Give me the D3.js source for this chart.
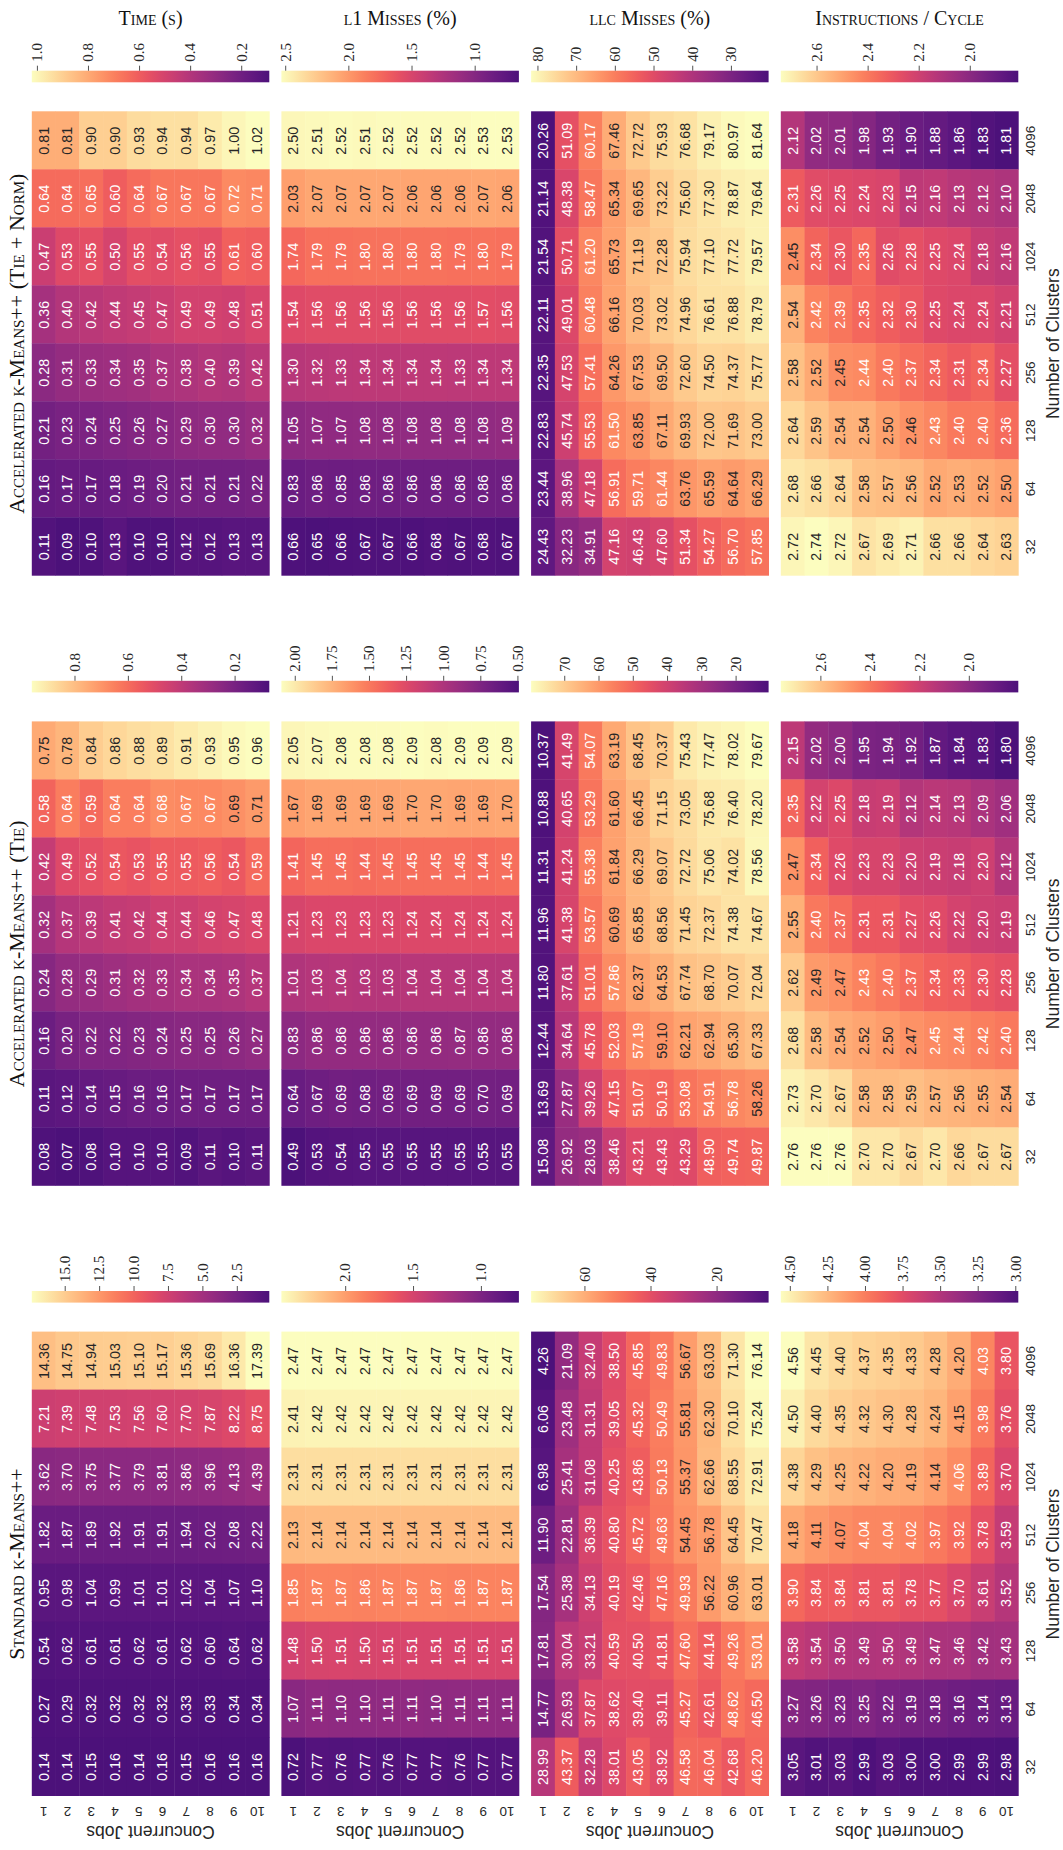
<!DOCTYPE html>
<html>
<head>
<meta charset="utf-8">
<script src="https://cdn.jsdelivr.net/npm/d3@7"></script>
<style>
  body { margin: 0; background: #fff; }
  svg text { font-family: "Liberation Sans", Arial, sans-serif; fill: #262626; }
  .title { font-family: "Liberation Serif", serif; font-variant: small-caps; font-size: 20px; fill: #111; }
  .method { font-size: 22px; }
  .cbar text { font-family: "Liberation Serif", serif; font-size: 15px; }
</style>
</head>
<body>
<svg width="1063" height="1850"></svg>
<script>
/*global d3*/

var clusters = [32, 64, 128, 256, 512, 1024, 2048, 4096]
var jobs = [1, 2, 3, 4, 5, 6, 7, 8, 9, 10]

var methods = ['Standard k-Means++', 'Accelerated k-Means++ (Tie)', 'Accelerated k-Means++ (Tie + Norm)']
var metrics = ['Time (s)', 'l1 Misses (%)', 'llc Misses (%)', 'Instructions / Cycle']

// every grid: one row per cluster count, from 4096 down to 32, one value per concurrent job
var stdTime = [
  [14.36, 14.75, 14.94, 15.03, 15.10, 15.17, 15.36, 15.69, 16.36, 17.39],
  [7.21, 7.39, 7.48, 7.53, 7.56, 7.60, 7.70, 7.87, 8.22, 8.75],
  [3.62, 3.70, 3.75, 3.77, 3.79, 3.81, 3.86, 3.96, 4.13, 4.39],
  [1.82, 1.87, 1.89, 1.92, 1.91, 1.91, 1.94, 2.02, 2.08, 2.22],
  [0.95, 0.98, 1.04, 0.99, 1.01, 1.01, 1.02, 1.04, 1.07, 1.10],
  [0.54, 0.62, 0.61, 0.61, 0.62, 0.61, 0.62, 0.60, 0.64, 0.62],
  [0.27, 0.29, 0.32, 0.32, 0.32, 0.32, 0.33, 0.33, 0.34, 0.34],
  [0.14, 0.14, 0.15, 0.16, 0.14, 0.16, 0.15, 0.16, 0.16, 0.16]
]
var stdL1 = [
  [2.47, 2.47, 2.47, 2.47, 2.47, 2.47, 2.47, 2.47, 2.47, 2.47],
  [2.41, 2.42, 2.42, 2.42, 2.42, 2.42, 2.42, 2.42, 2.42, 2.42],
  [2.31, 2.31, 2.31, 2.31, 2.31, 2.31, 2.31, 2.31, 2.31, 2.31],
  [2.13, 2.14, 2.14, 2.14, 2.14, 2.14, 2.14, 2.14, 2.14, 2.14],
  [1.85, 1.87, 1.87, 1.86, 1.87, 1.87, 1.87, 1.86, 1.87, 1.87],
  [1.48, 1.50, 1.51, 1.50, 1.51, 1.51, 1.51, 1.51, 1.51, 1.51],
  [1.07, 1.11, 1.10, 1.10, 1.11, 1.11, 1.10, 1.11, 1.11, 1.11],
  [0.72, 0.77, 0.76, 0.77, 0.76, 0.77, 0.77, 0.76, 0.77, 0.77]
]
var stdLlc = [
  [4.26, 21.09, 32.40, 38.50, 45.85, 49.83, 56.67, 63.03, 71.30, 76.14],
  [6.06, 23.48, 31.31, 39.05, 45.32, 50.49, 55.81, 62.30, 70.10, 75.24],
  [6.98, 25.41, 31.08, 40.25, 43.86, 50.13, 55.37, 62.66, 68.55, 72.91],
  [11.90, 22.81, 36.39, 40.80, 45.72, 49.63, 54.45, 56.78, 64.45, 70.47],
  [17.54, 25.38, 34.13, 40.19, 42.46, 47.16, 49.93, 56.22, 60.96, 63.01],
  [17.81, 30.04, 33.21, 40.59, 40.50, 41.81, 47.60, 44.14, 49.26, 53.01],
  [14.77, 26.93, 37.87, 38.62, 39.40, 39.11, 45.27, 42.61, 48.62, 46.50],
  [28.99, 43.37, 32.28, 38.01, 43.05, 38.92, 46.58, 46.04, 42.68, 46.20]
]
var stdIpc = [
  [4.56, 4.45, 4.40, 4.37, 4.35, 4.33, 4.28, 4.20, 4.03, 3.80],
  [4.50, 4.40, 4.35, 4.32, 4.30, 4.28, 4.24, 4.15, 3.98, 3.76],
  [4.38, 4.29, 4.25, 4.22, 4.20, 4.19, 4.14, 4.06, 3.89, 3.70],
  [4.18, 4.11, 4.07, 4.04, 4.04, 4.02, 3.97, 3.92, 3.78, 3.59],
  [3.90, 3.84, 3.84, 3.81, 3.81, 3.78, 3.77, 3.70, 3.61, 3.52],
  [3.58, 3.54, 3.50, 3.49, 3.50, 3.49, 3.47, 3.46, 3.42, 3.43],
  [3.27, 3.26, 3.23, 3.25, 3.22, 3.19, 3.18, 3.16, 3.14, 3.13],
  [3.05, 3.01, 3.03, 2.99, 3.03, 3.00, 3.00, 2.99, 2.99, 2.98]
]

var tieTime = [
  [0.75, 0.78, 0.84, 0.86, 0.88, 0.89, 0.91, 0.93, 0.95, 0.96],
  [0.58, 0.64, 0.59, 0.64, 0.64, 0.68, 0.67, 0.67, 0.69, 0.71],
  [0.42, 0.49, 0.52, 0.54, 0.53, 0.55, 0.55, 0.56, 0.54, 0.59],
  [0.32, 0.37, 0.39, 0.41, 0.42, 0.44, 0.44, 0.46, 0.47, 0.48],
  [0.24, 0.28, 0.29, 0.31, 0.32, 0.33, 0.34, 0.34, 0.35, 0.37],
  [0.16, 0.20, 0.22, 0.22, 0.23, 0.24, 0.25, 0.25, 0.26, 0.27],
  [0.11, 0.12, 0.14, 0.15, 0.16, 0.16, 0.17, 0.17, 0.17, 0.17],
  [0.08, 0.07, 0.08, 0.10, 0.10, 0.10, 0.09, 0.11, 0.10, 0.11]
]
var tieL1 = [
  [2.05, 2.07, 2.08, 2.08, 2.08, 2.09, 2.08, 2.09, 2.09, 2.09],
  [1.67, 1.69, 1.69, 1.69, 1.69, 1.70, 1.70, 1.69, 1.69, 1.70],
  [1.41, 1.45, 1.45, 1.44, 1.45, 1.45, 1.45, 1.45, 1.44, 1.45],
  [1.21, 1.23, 1.23, 1.23, 1.23, 1.24, 1.24, 1.24, 1.24, 1.24],
  [1.01, 1.03, 1.04, 1.03, 1.03, 1.04, 1.04, 1.04, 1.04, 1.04],
  [0.83, 0.86, 0.86, 0.86, 0.86, 0.86, 0.86, 0.87, 0.86, 0.86],
  [0.64, 0.67, 0.69, 0.68, 0.69, 0.69, 0.69, 0.69, 0.70, 0.69],
  [0.49, 0.53, 0.54, 0.55, 0.55, 0.55, 0.55, 0.55, 0.55, 0.55]
]
var tieLlc = [
  [10.37, 41.49, 54.07, 63.19, 68.45, 70.37, 75.43, 77.47, 78.02, 79.67],
  [10.88, 40.65, 53.29, 61.60, 66.45, 71.15, 73.05, 75.68, 76.40, 78.20],
  [11.31, 41.24, 55.38, 61.84, 66.29, 69.07, 72.72, 75.06, 74.02, 78.56],
  [11.96, 41.38, 53.57, 60.69, 65.85, 68.56, 71.45, 72.37, 74.38, 74.67],
  [11.80, 37.61, 51.01, 57.86, 62.37, 64.53, 67.74, 68.70, 70.07, 72.04],
  [12.44, 34.64, 45.78, 52.03, 57.19, 59.10, 62.21, 62.94, 65.30, 67.33],
  [13.69, 27.87, 39.26, 47.15, 51.07, 50.19, 53.08, 54.91, 56.78, 58.26],
  [15.08, 26.92, 28.03, 38.46, 43.21, 43.43, 43.29, 48.90, 49.74, 49.87]
]
var tieIpc = [
  [2.15, 2.02, 2.00, 1.95, 1.94, 1.92, 1.87, 1.84, 1.83, 1.80],
  [2.35, 2.22, 2.25, 2.18, 2.19, 2.12, 2.14, 2.13, 2.09, 2.06],
  [2.47, 2.34, 2.26, 2.23, 2.23, 2.20, 2.19, 2.18, 2.20, 2.12],
  [2.55, 2.40, 2.37, 2.31, 2.31, 2.27, 2.26, 2.22, 2.20, 2.19],
  [2.62, 2.49, 2.47, 2.43, 2.40, 2.37, 2.34, 2.33, 2.30, 2.28],
  [2.68, 2.58, 2.54, 2.52, 2.50, 2.47, 2.45, 2.44, 2.42, 2.40],
  [2.73, 2.70, 2.67, 2.58, 2.58, 2.59, 2.57, 2.56, 2.55, 2.54],
  [2.76, 2.76, 2.76, 2.70, 2.70, 2.67, 2.70, 2.66, 2.67, 2.67]
]

var tnTime = [
  [0.81, 0.81, 0.90, 0.90, 0.93, 0.94, 0.94, 0.97, 1.00, 1.02],
  [0.64, 0.64, 0.65, 0.60, 0.64, 0.67, 0.67, 0.67, 0.72, 0.71],
  [0.47, 0.53, 0.55, 0.50, 0.55, 0.54, 0.56, 0.55, 0.61, 0.60],
  [0.36, 0.40, 0.42, 0.44, 0.45, 0.47, 0.49, 0.49, 0.48, 0.51],
  [0.28, 0.31, 0.33, 0.34, 0.35, 0.37, 0.38, 0.40, 0.39, 0.42],
  [0.21, 0.23, 0.24, 0.25, 0.26, 0.27, 0.29, 0.30, 0.30, 0.32],
  [0.16, 0.17, 0.17, 0.18, 0.19, 0.20, 0.21, 0.21, 0.21, 0.22],
  [0.11, 0.09, 0.10, 0.13, 0.10, 0.10, 0.12, 0.12, 0.13, 0.13]
]
var tnL1 = [
  [2.50, 2.51, 2.52, 2.51, 2.52, 2.52, 2.52, 2.52, 2.53, 2.53],
  [2.03, 2.07, 2.07, 2.07, 2.07, 2.06, 2.06, 2.06, 2.07, 2.06],
  [1.74, 1.79, 1.79, 1.80, 1.80, 1.80, 1.80, 1.79, 1.80, 1.79],
  [1.54, 1.56, 1.56, 1.56, 1.56, 1.56, 1.56, 1.56, 1.57, 1.56],
  [1.30, 1.32, 1.33, 1.34, 1.34, 1.34, 1.34, 1.33, 1.34, 1.34],
  [1.05, 1.07, 1.07, 1.08, 1.08, 1.08, 1.08, 1.08, 1.08, 1.09],
  [0.83, 0.86, 0.85, 0.86, 0.86, 0.86, 0.86, 0.86, 0.86, 0.86],
  [0.66, 0.65, 0.66, 0.67, 0.67, 0.66, 0.68, 0.67, 0.68, 0.67]
]
var tnLlc = [
  [20.26, 51.09, 60.17, 67.46, 72.72, 75.93, 76.68, 79.17, 80.97, 81.64],
  [21.14, 48.38, 58.47, 65.34, 69.65, 73.22, 75.60, 77.30, 78.87, 79.64],
  [21.54, 50.71, 61.20, 65.73, 71.19, 72.28, 75.94, 77.10, 77.72, 79.57],
  [22.11, 49.01, 60.48, 66.16, 70.03, 73.02, 74.96, 76.61, 76.88, 78.79],
  [22.35, 47.53, 57.41, 64.26, 67.53, 69.50, 72.60, 74.50, 74.37, 75.77],
  [22.83, 45.74, 55.53, 61.50, 63.85, 67.11, 69.93, 72.00, 71.69, 73.00],
  [23.44, 38.96, 47.18, 56.91, 59.71, 61.44, 63.76, 65.59, 64.64, 66.29],
  [24.43, 32.23, 34.91, 47.16, 46.43, 47.60, 51.34, 54.27, 56.70, 57.85]
]
var tnIpc = [
  [2.12, 2.02, 2.01, 1.98, 1.93, 1.90, 1.88, 1.86, 1.83, 1.81],
  [2.31, 2.26, 2.25, 2.24, 2.23, 2.15, 2.16, 2.13, 2.12, 2.10],
  [2.45, 2.34, 2.30, 2.35, 2.26, 2.28, 2.25, 2.24, 2.18, 2.16],
  [2.54, 2.42, 2.39, 2.35, 2.32, 2.30, 2.25, 2.24, 2.24, 2.21],
  [2.58, 2.52, 2.45, 2.44, 2.40, 2.37, 2.34, 2.31, 2.34, 2.27],
  [2.64, 2.59, 2.54, 2.54, 2.50, 2.46, 2.43, 2.40, 2.40, 2.36],
  [2.68, 2.66, 2.64, 2.58, 2.57, 2.56, 2.52, 2.53, 2.52, 2.50],
  [2.72, 2.74, 2.72, 2.67, 2.69, 2.71, 2.66, 2.66, 2.64, 2.63]
]

// colorbar tick labels
var stdTimeTicks = ['2.5', '5.0', '7.5', '10.0', '12.5', '15.0']
var stdL1Ticks = ['1.0', '1.5', '2.0']
var stdLlcTicks = ['20', '40', '60']
var stdIpcTicks = ['3.00', '3.25', '3.50', '3.75', '4.00', '4.25', '4.50']
var tieTimeTicks = ['0.2', '0.4', '0.6', '0.8']
var tieL1Ticks = ['0.50', '0.75', '1.00', '1.25', '1.50', '1.75', '2.00']
var tieLlcTicks = ['20', '30', '40', '50', '60', '70']
var tieIpcTicks = ['2.0', '2.2', '2.4', '2.6']
var tnTimeTicks = ['0.2', '0.4', '0.6', '0.8', '1.0']
var tnL1Ticks = ['1.0', '1.5', '2.0', '2.5']
var tnLlcTicks = ['30', '40', '50', '60', '70', '80']
var tnIpcTicks = ['2.0', '2.2', '2.4', '2.6']

var grids = [
  [stdTime, stdL1, stdLlc, stdIpc],
  [tieTime, tieL1, tieLlc, tieIpc],
  [tnTime, tnL1, tnLlc, tnIpc]
]
var cbTicks = [
  [stdTimeTicks, stdL1Ticks, stdLlcTicks, stdIpcTicks],
  [tieTimeTicks, tieL1Ticks, tieLlcTicks, tieIpcTicks],
  [tnTimeTicks, tnL1Ticks, tnLlcTicks, tnIpcTicks]
]

// the figure is laid out landscape and then turned a quarter turn anticlockwise
var svg = d3.select('svg')
var fig = svg.append('g').attr('transform', 'translate(0,1850) rotate(-90)')

var colX = [54, 664.2, 1274.3]
var rowY = [31.8, 281.4, 531.1, 780.8]
var hmW = 464
var hmH = 237.5
var T0 = 0.24

var x = d3.scaleBand().domain(clusters).range([0, hmW])
var y = d3.scaleBand().domain(jobs).range([0, hmH])
var rowClusters = clusters.slice().reverse()
var defs = svg.append('defs')

function cmap (t) { return d3.interpolateMagma(T0 + (1 - T0) * t) }

function luminance (c) {
  var rgb = d3.rgb(c)
  var lin = [rgb.r, rgb.g, rgb.b].map(function (v) {
    v = v / 255
    return v <= 0.03928 ? v / 12.92 : Math.pow((v + 0.055) / 1.055, 2.4)
  })
  return 0.2126 * lin[0] + 0.7152 * lin[1] + 0.0722 * lin[2]
}

grids.forEach(function (mGrids, mi) {
  mGrids.forEach(function (grid, ri) {
    var cells = []
    grid.forEach(function (vals, i) {
      vals.forEach(function (v, j) {
        cells.push({ c: rowClusters[i], j: jobs[j], v: v })
      })
    })
    var ext = d3.extent(cells, function (d) { return d.v })
    var color = d3.scaleSequential(cmap).domain(ext)

    var g = fig.append('g')
      .attr('transform', 'translate(' + colX[mi] + ',' + rowY[ri] + ')')

    g.append('g').selectAll('rect')
      .data(cells)
      .enter().append('rect')
      .attr('x', function (d) { return x(d.c) })
      .attr('y', function (d) { return y(d.j) })
      .attr('width', x.bandwidth() + 0.4)
      .attr('height', y.bandwidth() + 0.4)
      .attr('fill', function (d) { return color(d.v) })

    g.append('g').selectAll('text')
      .data(cells)
      .enter().append('text')
      .attr('x', function (d) { return x(d.c) + x.bandwidth() / 2 })
      .attr('y', function (d) { return y(d.j) + y.bandwidth() / 2 })
      .attr('text-anchor', 'middle')
      .attr('dominant-baseline', 'central')
      .style('font-size', '14.4px')
      .style('fill', function (d) { return luminance(color(d.v)) > 0.408 ? '#262626' : '#ffffff' })
      .text(function (d) { return d.v.toFixed(2) })

    // colorbar
    var gid = 'grad' + mi + ri
    var grad = defs.append('linearGradient').attr('id', gid)
      .attr('x1', 0).attr('y1', 1).attr('x2', 0).attr('y2', 0)
    d3.range(0, 1.0001, 0.05).forEach(function (t) {
      grad.append('stop').attr('offset', t).attr('stop-color', cmap(t))
    })
    g.append('rect')
      .attr('x', hmW + 29.4).attr('y', 0)
      .attr('width', 11.6).attr('height', hmH)
      .attr('fill', 'url(#' + gid + ')')

    var labels = cbTicks[mi][ri]
    var cb = d3.scaleLinear().domain(ext).range([hmH, 0])
    var cbAxis = g.append('g')
      .attr('class', 'cbar')
      .attr('transform', 'translate(' + (hmW + 41) + ',0)')
      .call(d3.axisRight(cb)
        .tickValues(labels.map(Number))
        .tickFormat(function (d, i) { return labels[i] })
        .tickSize(5).tickPadding(4))
    cbAxis.select('.domain').remove()
    cbAxis.attr('font-family', null).attr('font-size', null)
    cbAxis.selectAll('line').attr('stroke', '#262626').attr('stroke-width', 0.8)
    cbAxis.selectAll('text').attr('fill', null)

    // concurrent jobs axis, only beside the standard heatmaps
    if (mi === 0) {
      var ya = g.append('g').call(d3.axisLeft(y).tickSize(0).tickPadding(0))
      ya.select('.domain').remove()
      ya.attr('font-family', null).attr('font-size', null)
      ya.selectAll('text')
        .attr('fill', null).attr('x', 0).attr('dy', null)
        .attr('text-anchor', 'middle')
        .attr('dominant-baseline', 'central')
        .attr('transform', 'translate(-15.7,0) rotate(-90)')
        .style('font-size', '13.5px')
      g.append('text')
        .attr('transform', 'translate(-35.7,' + hmH / 2 + ') rotate(-90)')
        .attr('text-anchor', 'middle')
        .attr('dominant-baseline', 'central')
        .style('font-size', '17.5px')
        .text('Concurrent Jobs')
    }

    // number of clusters axis, only under the last metric
    if (ri === 3) {
      var xa = g.append('g')
        .attr('transform', 'translate(0,' + hmH + ')')
        .call(d3.axisBottom(x).tickSize(0).tickPadding(0))
      xa.select('.domain').remove()
      xa.attr('font-family', null).attr('font-size', null)
      xa.selectAll('text')
        .attr('fill', null).attr('y', 12.7).attr('dy', null)
        .attr('dominant-baseline', 'central')
        .style('font-size', '13.5px')
      g.append('text')
        .attr('x', hmW / 2).attr('y', 272)
        .attr('text-anchor', 'middle')
        .attr('dominant-baseline', 'central')
        .style('font-size', '17.5px')
        .text('Number of Clusters')
    }
  })

  fig.append('text')
    .attr('class', 'title method')
    .attr('x', colX[mi] + hmW / 2).attr('y', 16)
    .attr('text-anchor', 'middle')
    .attr('dominant-baseline', 'central')
    .text(methods[mi])
})

metrics.forEach(function (m, ri) {
  fig.append('text')
    .attr('class', 'title')
    .attr('transform', 'translate(1832,' + (rowY[ri] + hmH / 2) + ') rotate(90)')
    .attr('text-anchor', 'middle')
    .attr('dominant-baseline', 'central')
    .text(m)
})
</script>
</body>
</html>
